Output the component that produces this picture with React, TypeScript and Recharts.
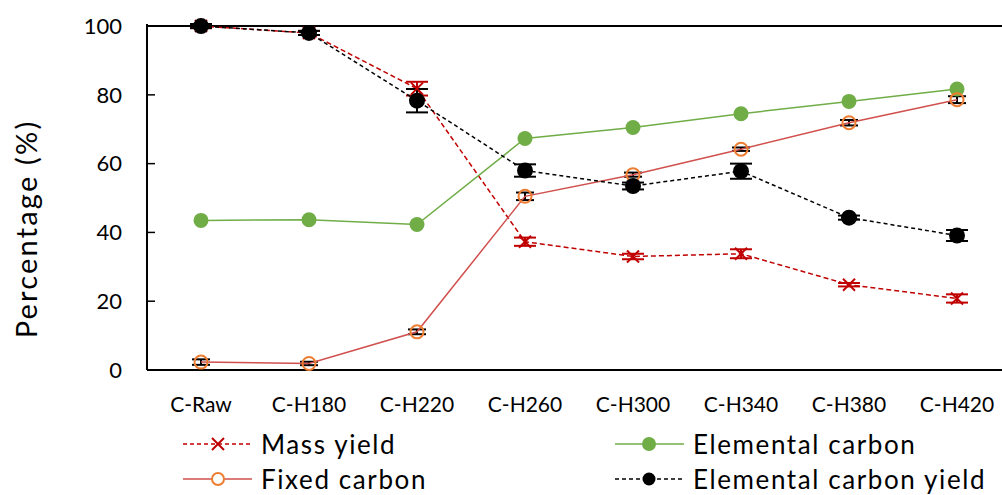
import React from 'react';
import { ComposedChart, Line, XAxis, YAxis, ErrorBar, ReferenceLine, Legend } from 'recharts';

const categories = ['C-Raw', 'C-H180', 'C-H220', 'C-H260', 'C-H300', 'C-H340', 'C-H380', 'C-H420'];
const massYield = [100, 98, 81.8, 37.3, 33, 33.8, 24.8, 20.8];
const massYieldErr = [0.6, 0.6, 2, 1.2, 0.8, 1.3, 0.5, 1.2];
const elementalCarbon = [43.5, 43.7, 42.3, 67.3, 70.5, 74.5, 78.1, 81.7];
const fixedCarbon = [2.3, 1.9, 11.1, 50.5, 56.8, 64.2, 71.9, 78.6];
const fixedCarbonErr = [0.8, 0.5, 0.7, 1.1, 0.6, 0.5, 0.8, 1];
const ecYield = [100, 98, 78.3, 58, 53.5, 57.8, 44.3, 39.1];
const ecYieldErr = [0.6, 0.6, 3.4, 1.8, 1, 2.2, 0.6, 1.6];
const yTicks = [0, 20, 40, 60, 80, 100];

const data = categories.map((c, i) => ({
  cat: c,
  massYield: massYield[i],
  massYieldErr: massYieldErr[i],
  elementalCarbon: elementalCarbon[i],
  fixedCarbon: fixedCarbon[i],
  fixedCarbonErr: fixedCarbonErr[i],
  ecYield: ecYield[i],
  ecYieldErr: ecYieldErr[i],
}));

const FONT = 'Lato, "Open Sans", sans-serif';
const RED = '#C00000';
const GREEN = '#70AD47';
const FC_LINE = '#D0504D';
const ORANGE = '#ED7D31';

const XDot = (props: any) => {
  const { cx, cy, index } = props;
  if (cx == null || cy == null) return null;
  const s = 6;
  return (
    <g key={'x' + index}>
      <line x1={cx - s} y1={cy - s} x2={cx + s} y2={cy + s} stroke={RED} strokeWidth={2} />
      <line x1={cx - s} y1={cy + s} x2={cx + s} y2={cy - s} stroke={RED} strokeWidth={2} />
    </g>
  );
};

const legendItems = [
  { label: 'Mass yield', color: RED, dash: '4 3', marker: 'x', left: 183, top: 24 },
  { label: 'Elemental carbon', color: GREEN, dash: undefined, marker: 'green', left: 615, top: 24 },
  { label: 'Fixed carbon', color: FC_LINE, dash: undefined, marker: 'hollow', left: 183, top: 59 },
  { label: 'Elemental carbon yield', color: '#000', dash: '4 3', marker: 'black', left: 615, top: 59 },
];

const LegendContent = () => (
  <div style={{ position: 'relative', width: 1002, height: 75, fontFamily: FONT }}>
    {legendItems.map((it) => (
      <div key={it.label} style={{ position: 'absolute', left: it.left, top: it.top - 16, height: 32, display: 'flex', alignItems: 'center' }}>
        <svg width={69} height={32} style={{ display: 'block' }}>
          <line x1={0} y1={16} x2={69} y2={16} stroke={it.color} strokeWidth={1.5} strokeDasharray={it.dash} />
          {it.marker === 'x' && (
            <g>
              <line x1={29} y1={10} x2={41} y2={22} stroke={RED} strokeWidth={2} />
              <line x1={29} y1={22} x2={41} y2={10} stroke={RED} strokeWidth={2} />
            </g>
          )}
          {it.marker === 'green' && <circle cx={34} cy={16} r={7} fill={GREEN} />}
          {it.marker === 'hollow' && <circle cx={35} cy={16} r={6} fill="#fff" stroke={ORANGE} strokeWidth={2} />}
          {it.marker === 'black' && <circle cx={34} cy={16} r={6.5} fill="#000" />}
        </svg>
        <span style={{ marginLeft: 9, fontSize: 26, letterSpacing: 1.6, color: '#000', whiteSpace: 'nowrap', lineHeight: '32px' }}>{it.label}</span>
      </div>
    ))}
  </div>
);

const YLabel = () => (
  <text x={37} y={229} transform="rotate(-90 37 229)" textAnchor="middle" fontSize={29} letterSpacing={2.2} fontFamily={FONT} fill="#000">
    Percentage (%)
  </text>
);

export default function App() {
  return (
    <div style={{ position: 'fixed', left: 0, top: 0, width: 1002, height: 495, overflow: 'hidden', background: '#fff' }}>
      <ComposedChart
        width={1030}
        height={495}
        data={data}
        margin={{ top: 24, right: 19, bottom: 10, left: 0 }}
      >
        <XAxis
          dataKey="cat"
          height={40}
          padding={{ left: 54, right: 54 }}
          tickLine={false}
          axisLine={{ stroke: '#000', strokeWidth: 2 }}
          tick={{ fill: '#000', fontSize: 21, fontFamily: FONT }}
          tickMargin={21}
          interval={0}
        />
        <YAxis
          width={147}
          domain={[0, 100]}
          ticks={yTicks}
          type="number"
          axisLine={{ stroke: '#000', strokeWidth: 2 }}
          tickLine={{ stroke: '#000', strokeWidth: 1.5 }}
          tickSize={-8}
          tickMargin={33}
          tick={{ fill: '#000', fontSize: 22, fontFamily: FONT }}
          label={<YLabel />}
        />
        <ReferenceLine y={100} stroke="#000" strokeWidth={2} ifOverflow="extendDomain" />
        <Legend
          verticalAlign="bottom"
          height={75}
          content={<LegendContent />}
          wrapperStyle={{ left: 0, top: 420, width: 1002, height: 75 }}
        />
        <Line
          dataKey="massYield"
          stroke={RED}
          strokeWidth={1.5}
          strokeDasharray="5 3"
          dot={<XDot />}
          activeDot={false}
          isAnimationActive={false}
        >
          <ErrorBar dataKey="massYieldErr" direction="y" width={11} stroke={RED} strokeWidth={2} />
        </Line>
        <Line
          dataKey="elementalCarbon"
          stroke={GREEN}
          strokeWidth={1.5}
          dot={{ r: 7.5, fill: GREEN, stroke: GREEN, strokeWidth: 0 }}
          activeDot={false}
          isAnimationActive={false}
        />
        <Line
          dataKey="fixedCarbon"
          stroke={FC_LINE}
          strokeWidth={1.5}
          dot={{ r: 6.5, fill: 'none', stroke: ORANGE, strokeWidth: 2 }}
          activeDot={false}
          isAnimationActive={false}
        >
          <ErrorBar dataKey="fixedCarbonErr" direction="y" width={9} stroke="#000" strokeWidth={2} />
        </Line>
        <Line
          dataKey="ecYield"
          stroke="#000"
          strokeWidth={1.5}
          strokeDasharray="4 3"
          dot={{ r: 8, fill: '#000', stroke: '#000', strokeWidth: 0 }}
          activeDot={false}
          isAnimationActive={false}
        >
          <ErrorBar dataKey="ecYieldErr" direction="y" width={11} stroke="#000" strokeWidth={2} />
        </Line>
      </ComposedChart>
    </div>
  );
}
